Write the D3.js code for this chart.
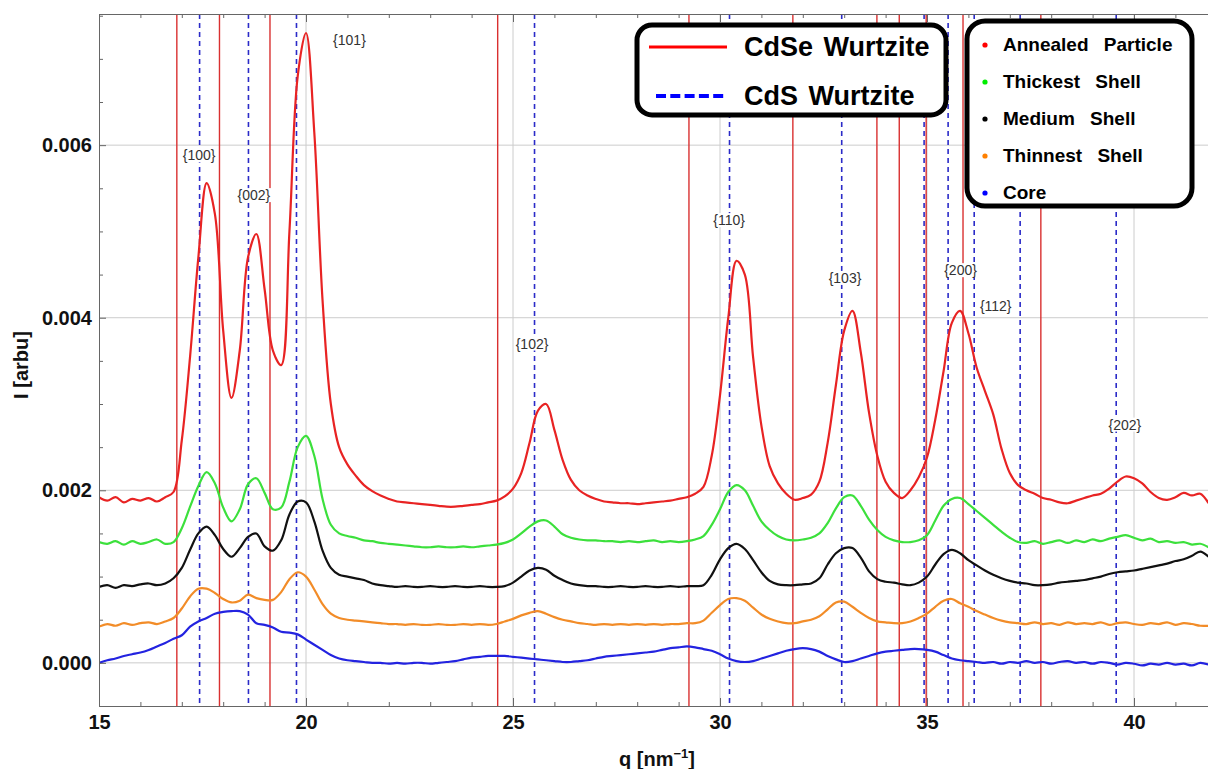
<!DOCTYPE html>
<html>
<head>
<meta charset="utf-8">
<script src="https://cdn.jsdelivr.net/npm/d3@7"></script>
<style>
    body { margin: 0; background: #fff; }
    svg { display: block; font-family: "Liberation Sans", Arial, sans-serif; }
</style>
</head>
<body>
<script>
//wrap everything in a self-executing anonymous function
(function(){

    //q sample positions [nm^-1] shared by every pattern
    var qValues = [
        15.0,15.2,15.4,15.6,15.8,16.0,16.2,16.4,16.6,16.8,
        17.0,17.2,17.4,17.6,17.8,18.0,18.2,18.4,18.6,18.8,
        19.0,19.2,19.4,19.6,19.8,20.0,20.2,20.4,20.6,20.8,
        21.0,21.2,21.4,21.6,21.8,22.0,22.2,22.4,22.6,22.8,
        23.0,23.2,23.4,23.6,23.8,24.0,24.2,24.4,24.6,24.8,
        25.0,25.2,25.4,25.6,25.8,26.0,26.2,26.4,26.6,26.8,
        27.0,27.2,27.4,27.6,27.8,28.0,28.2,28.4,28.6,28.8,
        29.0,29.2,29.4,29.6,29.8,30.0,30.2,30.4,30.6,30.8,
        31.0,31.2,31.4,31.6,31.8,32.0,32.2,32.4,32.6,32.8,
        33.0,33.2,33.4,33.6,33.8,34.0,34.2,34.4,34.6,34.8,
        35.0,35.2,35.4,35.6,35.8,36.0,36.2,36.4,36.6,36.8,
        37.0,37.2,37.4,37.6,37.8,38.0,38.2,38.4,38.6,38.8,
        39.0,39.2,39.4,39.6,39.8,40.0,40.2,40.4,40.6,40.8,
        41.0,41.2,41.4,41.6,41.8
    ];

    //intensities, in units of 1e-3 arbu
    var annealed = [
        1.92,1.88,1.92,1.86,1.90,1.88,1.91,1.87,1.92,1.98,
        2.58,3.55,4.70,5.56,5.20,3.85,3.07,3.62,4.70,4.97,
        4.33,3.62,3.45,5.00,6.80,7.30,6.15,4.20,3.00,2.50,
        2.30,2.17,2.06,1.99,1.94,1.90,1.87,1.86,1.85,1.84,
        1.83,1.82,1.81,1.81,1.82,1.83,1.84,1.86,1.88,1.93,
        2.02,2.20,2.55,2.92,3.00,2.70,2.35,2.12,2.00,1.94,
        1.90,1.87,1.86,1.85,1.85,1.84,1.85,1.86,1.87,1.88,
        1.90,1.92,1.96,2.04,2.40,3.10,4.00,4.66,4.50,3.54,
        2.75,2.28,2.08,1.96,1.89,1.91,1.95,2.10,2.55,3.22,
        3.85,4.08,3.60,2.90,2.40,2.10,1.97,1.91,2.00,2.15,
        2.38,2.82,3.38,3.94,4.08,3.82,3.42,3.15,2.88,2.48,
        2.20,2.06,2.00,1.96,1.91,1.89,1.86,1.85,1.88,1.91,
        1.94,1.96,2.02,2.10,2.16,2.14,2.08,1.98,1.91,1.89,
        1.92,1.97,1.94,1.96,1.85
    ];
    var thickest = [
        1.40,1.38,1.41,1.37,1.41,1.38,1.40,1.43,1.38,1.40,
        1.56,1.81,2.05,2.21,2.08,1.80,1.64,1.78,2.07,2.14,
        1.97,1.78,1.80,2.10,2.50,2.63,2.40,1.90,1.60,1.50,
        1.47,1.45,1.42,1.41,1.39,1.38,1.37,1.36,1.35,1.34,
        1.34,1.35,1.34,1.34,1.35,1.34,1.35,1.36,1.37,1.39,
        1.43,1.50,1.58,1.64,1.65,1.58,1.49,1.45,1.43,1.42,
        1.42,1.41,1.41,1.40,1.41,1.40,1.41,1.42,1.40,1.41,
        1.40,1.41,1.43,1.47,1.60,1.78,1.98,2.06,2.00,1.82,
        1.64,1.54,1.47,1.43,1.42,1.43,1.45,1.50,1.62,1.79,
        1.92,1.94,1.82,1.66,1.54,1.46,1.42,1.40,1.40,1.42,
        1.48,1.65,1.82,1.90,1.91,1.84,1.76,1.68,1.60,1.52,
        1.45,1.40,1.39,1.41,1.38,1.40,1.42,1.39,1.42,1.40,
        1.43,1.41,1.44,1.46,1.48,1.45,1.42,1.44,1.40,1.41,
        1.39,1.40,1.37,1.38,1.34
    ];
    var medium = [
        0.88,0.90,0.87,0.90,0.89,0.91,0.92,0.90,0.92,0.98,
        1.10,1.31,1.50,1.58,1.48,1.32,1.23,1.33,1.46,1.50,
        1.35,1.30,1.42,1.72,1.87,1.86,1.64,1.30,1.10,1.02,
        1.00,0.98,0.96,0.92,0.90,0.89,0.88,0.89,0.88,0.88,
        0.89,0.88,0.88,0.89,0.88,0.88,0.89,0.88,0.88,0.89,
        0.93,1.00,1.07,1.10,1.08,1.01,0.96,0.92,0.90,0.89,
        0.89,0.88,0.88,0.89,0.88,0.88,0.89,0.88,0.88,0.89,
        0.88,0.89,0.89,0.90,1.02,1.20,1.33,1.38,1.32,1.19,
        1.05,0.95,0.91,0.90,0.90,0.91,0.92,0.98,1.14,1.27,
        1.33,1.33,1.22,1.06,0.97,0.94,0.93,0.91,0.90,0.93,
        1.00,1.14,1.26,1.31,1.27,1.19,1.13,1.07,1.02,0.98,
        0.95,0.93,0.92,0.90,0.90,0.91,0.93,0.94,0.95,0.96,
        0.98,1.00,1.03,1.05,1.06,1.07,1.09,1.11,1.13,1.15,
        1.18,1.20,1.24,1.29,1.23
    ];
    var thinnest = [
        0.42,0.45,0.43,0.46,0.44,0.46,0.47,0.45,0.48,0.52,
        0.63,0.77,0.86,0.86,0.81,0.74,0.70,0.72,0.79,0.75,
        0.73,0.73,0.82,0.97,1.05,1.00,0.85,0.68,0.57,0.52,
        0.50,0.49,0.48,0.47,0.46,0.45,0.45,0.44,0.45,0.44,
        0.44,0.45,0.44,0.44,0.45,0.44,0.45,0.44,0.45,0.48,
        0.51,0.55,0.58,0.60,0.57,0.53,0.50,0.48,0.46,0.45,
        0.44,0.45,0.44,0.45,0.44,0.45,0.44,0.45,0.44,0.45,
        0.45,0.46,0.46,0.49,0.58,0.67,0.74,0.75,0.72,0.64,
        0.56,0.51,0.48,0.46,0.46,0.48,0.50,0.54,0.62,0.70,
        0.71,0.65,0.58,0.52,0.48,0.47,0.46,0.46,0.48,0.52,
        0.57,0.65,0.72,0.74,0.69,0.65,0.60,0.56,0.52,0.49,
        0.47,0.46,0.45,0.47,0.45,0.46,0.44,0.47,0.45,0.46,
        0.45,0.47,0.44,0.46,0.47,0.45,0.44,0.46,0.45,0.47,
        0.44,0.46,0.45,0.43,0.43
    ];
    var core = [
        0.00,0.03,0.05,0.08,0.10,0.12,0.15,0.19,0.23,0.28,
        0.32,0.42,0.48,0.52,0.57,0.59,0.60,0.60,0.56,0.46,
        0.44,0.41,0.36,0.35,0.33,0.27,0.21,0.15,0.09,0.05,
        0.03,0.02,0.01,0.00,0.00,-0.01,0.00,-0.01,0.00,0.00,
        -0.01,0.00,0.01,0.02,0.04,0.06,0.07,0.08,0.08,0.08,
        0.07,0.06,0.05,0.04,0.03,0.02,0.01,0.01,0.02,0.03,
        0.05,0.07,0.08,0.09,0.10,0.11,0.12,0.13,0.15,0.17,
        0.18,0.19,0.18,0.16,0.14,0.10,0.05,0.02,0.01,0.02,
        0.05,0.08,0.11,0.14,0.16,0.17,0.16,0.13,0.08,0.04,
        0.01,0.02,0.05,0.08,0.11,0.13,0.14,0.15,0.16,0.16,
        0.15,0.13,0.09,0.05,0.03,0.02,0.01,0.00,0.01,-0.01,
        0.01,0.00,0.02,0.00,0.01,-0.01,0.01,0.02,0.00,0.01,
        -0.01,0.01,0.00,-0.02,0.00,-0.01,-0.03,-0.01,-0.02,0.00,
        -0.02,-0.01,-0.03,0.00,-0.02
    ];

    //series names and colours, top to bottom
    var seriesNames = ["Annealed Particle", "Thickest Shell", "Medium Shell", "Thinnest Shell", "Core"];
    var seriesData = [annealed, thickest, medium, thinnest, core];
    var seriesColors = ["#e82323", "#3ce03c", "#111111", "#f28c28", "#2323e0"];
    var dotColors = ["#ff0000", "#00ee00", "#000000", "#ff8000", "#0000ff"];

    //reference reflection positions [nm^-1]
    var cdseLines = [16.88, 17.91, 19.13, 24.63, 29.25, 31.76, 33.79, 34.33, 34.98, 35.87, 37.75];
    var cdsLines = [17.43, 18.61, 19.77, 25.52, 30.23, 32.94, 34.93, 35.51, 36.14, 37.25, 39.57];

    //peak annotations (q, intensity in 1e-3 arbu)
    var peakNames = ["{100}", "{002}", "{101}", "{102}", "{110}", "{103}", "{200}", "{112}", "{202}"];
    var peakQ = [17.42, 18.74, 21.05, 25.46, 30.22, 33.02, 35.81, 36.66, 39.78];
    var peakI = [5.88, 5.42, 7.22, 3.70, 5.13, 4.46, 4.55, 4.13, 2.76];

    //tick values
    var xMajorTicks = [15, 20, 25, 30, 35, 40];
    var yMajorTicks = [0, 0.002, 0.004, 0.006];

    var refNames = ["CdSe Wurtzite", "CdS Wurtzite"];

    //frame dimensions
    var width = 1208, height = 769;
    var plotLeft = 99, plotRight = 1215, plotTop = 14, plotBottom = 706;

    var svg = d3.select("body")
        .append("svg")
        .attr("width", width)
        .attr("height", height);

    var x = d3.scaleLinear()
        .domain([15, 15 + (plotRight - plotLeft) / 41.4])
        .range([plotLeft, plotRight]);

    var y = d3.scaleLinear()
        .domain([-0.0005, 0.00752])
        .range([plotBottom, plotTop]);

    var xMinorTicks = d3.range(15, 42, 1).filter(function(d){ return xMajorTicks.indexOf(d) < 0; });
    var yMinorTicks = d3.range(-0.0005, 0.0076, 0.0005).filter(function(d){
        return yMajorTicks.every(function(m){ return Math.abs(m - d) > 1e-7; });
    });

    //clip everything to the plot frame
    svg.append("clipPath")
        .attr("id", "plotClip")
        .append("rect")
        .attr("x", plotLeft)
        .attr("y", plotTop)
        .attr("width", plotRight - plotLeft)
        .attr("height", plotBottom - plotTop);

    //grid lines
    svg.append("g")
        .selectAll("line")
        .data(xMajorTicks.slice(1))
        .enter()
        .append("line")
        .attr("x1", function(d){ return x(d); })
        .attr("x2", function(d){ return x(d); })
        .attr("y1", plotTop)
        .attr("y2", plotBottom)
        .attr("stroke", "#cccccc")
        .attr("stroke-width", 1);

    svg.append("g")
        .selectAll("line")
        .data(yMajorTicks)
        .enter()
        .append("line")
        .attr("x1", plotLeft)
        .attr("x2", plotRight)
        .attr("y1", function(d){ return y(d); })
        .attr("y2", function(d){ return y(d); })
        .attr("stroke", "#cccccc")
        .attr("stroke-width", 1);

    var plot = svg.append("g").attr("clip-path", "url(#plotClip)");

    //reference reflections
    plot.selectAll(".cdse")
        .data(cdseLines)
        .enter()
        .append("line")
        .attr("class", "cdse")
        .attr("x1", function(d){ return x(d); })
        .attr("x2", function(d){ return x(d); })
        .attr("y1", plotTop)
        .attr("y2", plotBottom)
        .attr("stroke", "#d93030")
        .attr("stroke-width", 1.4);

    plot.selectAll(".cds")
        .data(cdsLines)
        .enter()
        .append("line")
        .attr("class", "cds")
        .attr("x1", function(d){ return x(d); })
        .attr("x2", function(d){ return x(d); })
        .attr("y1", plotTop)
        .attr("y2", plotBottom)
        .attr("stroke", "#2b2bc8")
        .attr("stroke-width", 1.6)
        .attr("stroke-dasharray", "5,4");

    //diffraction patterns
    var line = d3.line()
        .x(function(d){ return x(d[0]); })
        .y(function(d){ return y(d[1] * 1e-3); })
        .curve(d3.curveCatmullRom.alpha(0.5));

    seriesData.slice().reverse().forEach(function(values, i){
        var idx = seriesData.length - 1 - i;
        plot.append("path")
            .datum(qValues.map(function(q, j){ return [q, values[j]]; }))
            .attr("fill", "none")
            .attr("stroke", seriesColors[idx])
            .attr("stroke-width", 2.2)
            .attr("stroke-linejoin", "round")
            .attr("d", line);
    });

    //peak labels with white backing
    var labels = plot.selectAll(".peak")
        .data(peakNames)
        .enter()
        .append("g")
        .attr("class", "peak");

    labels.append("rect").attr("fill", "#fff");
    labels.append("text")
        .attr("x", function(d, i){ return x(peakQ[i]); })
        .attr("y", function(d, i){ return y(peakI[i] * 1e-3); })
        .attr("dy", "0.35em")
        .attr("text-anchor", "middle")
        .attr("font-size", 14)
        .attr("fill", "#333")
        .text(function(d){ return d; });

    labels.each(function(){
        var g = d3.select(this);
        var b = g.select("text").node().getBBox();
        g.select("rect")
            .attr("x", b.x - 1)
            .attr("y", b.y + 1)
            .attr("width", b.width + 2)
            .attr("height", b.height - 2);
    });

    //axes: bottom
    var bottomMajor = d3.axisBottom(x)
        .tickValues(xMajorTicks)
        .tickSizeInner(-8)
        .tickSizeOuter(0)
        .tickPadding(9)
        .tickFormat(d3.format("d"));
    var bottomMinor = d3.axisBottom(x)
        .tickValues(xMinorTicks)
        .tickSizeInner(-4)
        .tickSizeOuter(0)
        .tickFormat("");
    var topMajor = d3.axisTop(x).tickValues(xMajorTicks).tickSizeInner(-8).tickSizeOuter(0).tickFormat("");
    var topMinor = d3.axisTop(x).tickValues(xMinorTicks).tickSizeInner(-4).tickSizeOuter(0).tickFormat("");

    var leftMajor = d3.axisLeft(y)
        .tickValues(yMajorTicks)
        .tickSizeInner(-7)
        .tickSizeOuter(0)
        .tickPadding(7)
        .tickFormat(d3.format(".3f"));
    var leftMinor = d3.axisLeft(y)
        .tickValues(yMinorTicks)
        .tickSizeInner(-4)
        .tickSizeOuter(0)
        .tickFormat("");

    function place(axis, tx, ty){
        var g = svg.append("g")
            .attr("transform", "translate(" + tx + "," + ty + ")")
            .call(axis);
        g.selectAll("path, line").attr("stroke", "#666");
        g.selectAll("text")
            .attr("fill", "#111")
            .attr("font-size", 20)
            .attr("font-weight", "bold")
            .attr("font-family", "Liberation Sans, Arial, sans-serif");
        return g;
    }

    place(bottomMinor, 0, plotBottom);
    place(bottomMajor, 0, plotBottom);
    place(topMinor, 0, plotTop);
    place(topMajor, 0, plotTop);
    place(leftMinor, plotLeft, 0);
    place(leftMajor, plotLeft, 0);

    //axis titles
    svg.append("text")
        .attr("transform", "translate(28," + 365 + ") rotate(-90)")
        .attr("text-anchor", "middle")
        .attr("font-size", 20)
        .attr("font-weight", "bold")
        .attr("fill", "#111")
        .text("I [arbu]");

    var xTitle = svg.append("text")
        .attr("x", 657)
        .attr("y", 766)
        .attr("text-anchor", "middle")
        .attr("font-size", 20)
        .attr("font-weight", "bold")
        .attr("fill", "#111");
    xTitle.append("tspan").text("q [nm");
    xTitle.append("tspan").attr("dy", -8).attr("font-size", 13).text("\u22121");
    xTitle.append("tspan").attr("dy", 8).text("]");

    //legend for reference lines
    var refLegend = svg.append("g");
    refLegend.append("rect")
        .attr("x", 637)
        .attr("y", 25)
        .attr("width", 309)
        .attr("height", 90)
        .attr("rx", 15)
        .attr("fill", "#fff")
        .attr("stroke", "#000")
        .attr("stroke-width", 5);
    refLegend.append("line")
        .attr("x1", 649).attr("x2", 727)
        .attr("y1", 47).attr("y2", 47)
        .attr("stroke", "#ff0000")
        .attr("stroke-width", 3);
    refLegend.append("line")
        .attr("x1", 656).attr("x2", 724)
        .attr("y1", 96).attr("y2", 96)
        .attr("stroke", "#0000ff")
        .attr("stroke-width", 4)
        .attr("stroke-dasharray", "10,4.3");
    refLegend.selectAll("text")
        .data(refNames)
        .enter()
        .append("text")
        .attr("x", 744)
        .attr("y", function(d, i){ return 56 + i * 49; })
        .attr("font-size", 27)
        .attr("font-weight", "bold")
        .attr("word-spacing", 3)
        .attr("fill", "#000")
        .text(function(d){ return d; });

    //legend for sample series
    var sampleLegend = svg.append("g");
    sampleLegend.append("rect")
        .attr("x", 967)
        .attr("y", 21)
        .attr("width", 225)
        .attr("height", 185)
        .attr("rx", 18)
        .attr("fill", "#fff")
        .attr("stroke", "#000")
        .attr("stroke-width", 5);
    var rows = sampleLegend.selectAll(".row")
        .data(seriesNames)
        .enter()
        .append("g")
        .attr("class", "row")
        .attr("transform", function(d, i){ return "translate(0," + (i * 37) + ")"; });
    rows.append("circle")
        .attr("cx", 985)
        .attr("cy", 45)
        .attr("r", 2.6)
        .attr("fill", function(d, i){ return dotColors[i]; });
    rows.append("text")
        .attr("x", 1003)
        .attr("y", 51)
        .attr("font-size", 19)
        .attr("font-weight", "bold")
        .attr("word-spacing", 10)
        .attr("fill", "#000")
        .text(function(d){ return d; });

})();
</script>
</body>
</html>
